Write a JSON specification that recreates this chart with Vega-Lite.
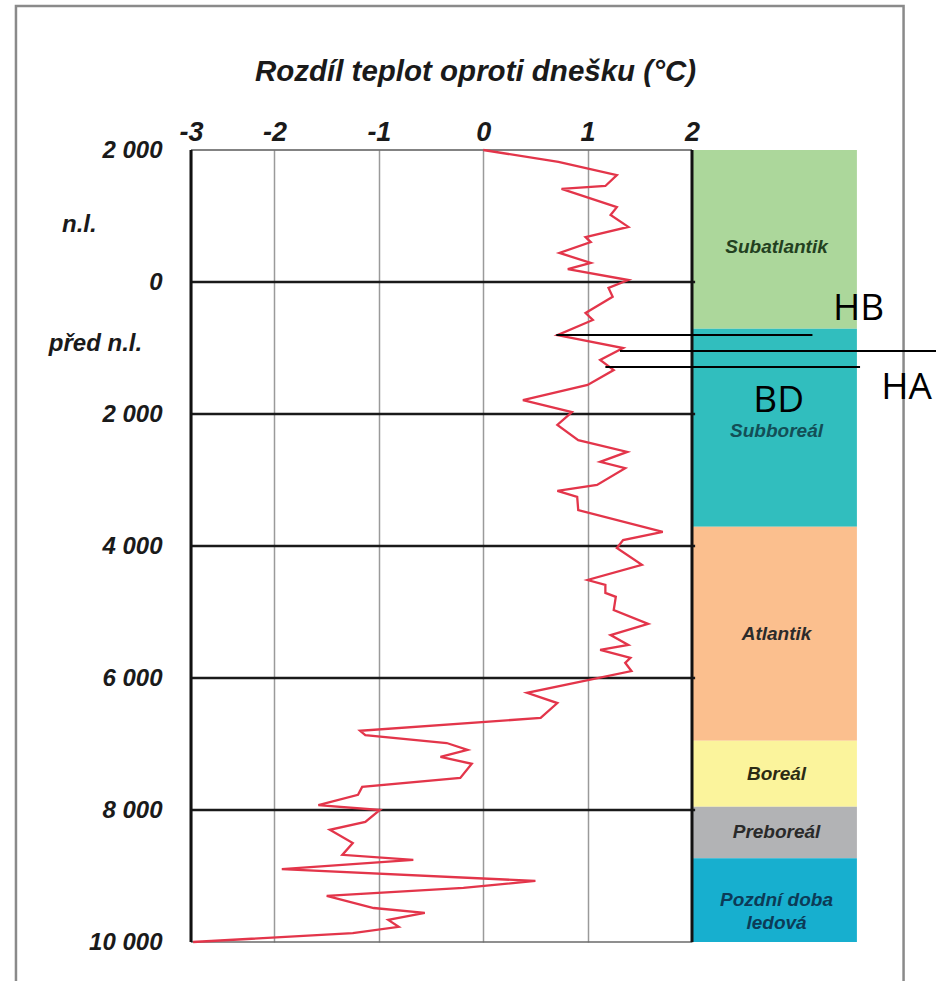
{
  "$schema": "https://vega.github.io/schema/vega-lite/v6.json",
  "width": 501,
  "height": 792,
  "autosize": {"type": "none"},
  "padding": {"left": 191, "top": 150, "right": 244, "bottom": 39},
  "background": "white",
  "config": {"view": {"stroke": null}},
  "resolve": {"axis": {"x": "independent", "y": "independent"}},
  "datasets": {
    "curve": [
      {"year": 2000, "dt": 0.0}, {"year": 1820, "dt": 0.72}, {"year": 1620, "dt": 1.28}, {"year": 1455, "dt": 1.17},
      {"year": 1410, "dt": 0.75}, {"year": 1135, "dt": 1.28}, {"year": 1015, "dt": 1.22}, {"year": 835, "dt": 1.39},
      {"year": 680, "dt": 0.98}, {"year": 605, "dt": 1.03}, {"year": 440, "dt": 0.73}, {"year": 290, "dt": 1.03},
      {"year": 195, "dt": 0.81}, {"year": 30, "dt": 1.39}, {"year": -90, "dt": 1.2}, {"year": -225, "dt": 1.24},
      {"year": -470, "dt": 0.98}, {"year": -575, "dt": 1.05}, {"year": -805, "dt": 0.71}, {"year": -1000, "dt": 1.34},
      {"year": -1180, "dt": 1.12}, {"year": -1335, "dt": 1.25}, {"year": -1560, "dt": 1.0}, {"year": -1790, "dt": 0.38},
      {"year": -1970, "dt": 0.85}, {"year": -2165, "dt": 0.71}, {"year": -2395, "dt": 0.91}, {"year": -2575, "dt": 1.38},
      {"year": -2725, "dt": 1.12}, {"year": -2820, "dt": 1.36}, {"year": -3075, "dt": 1.09}, {"year": -3165, "dt": 0.71},
      {"year": -3255, "dt": 0.9}, {"year": -3455, "dt": 0.91}, {"year": -3785, "dt": 1.72}, {"year": -3910, "dt": 1.34},
      {"year": -4030, "dt": 1.28}, {"year": -4285, "dt": 1.52}, {"year": -4515, "dt": 1.0}, {"year": -4590, "dt": 1.17},
      {"year": -4710, "dt": 1.17}, {"year": -4770, "dt": 1.27}, {"year": -4970, "dt": 1.25}, {"year": -5180, "dt": 1.58},
      {"year": -5350, "dt": 1.22}, {"year": -5500, "dt": 1.39}, {"year": -5575, "dt": 1.12}, {"year": -5695, "dt": 1.41},
      {"year": -5770, "dt": 1.36}, {"year": -5895, "dt": 1.42}, {"year": -6225, "dt": 0.42}, {"year": -6380, "dt": 0.71},
      {"year": -6605, "dt": 0.55}, {"year": -6800, "dt": -1.18}, {"year": -6865, "dt": -1.13}, {"year": -6985, "dt": -0.35},
      {"year": -7090, "dt": -0.15}, {"year": -7195, "dt": -0.41}, {"year": -7300, "dt": -0.11}, {"year": -7515, "dt": -0.22},
      {"year": -7650, "dt": -1.16}, {"year": -7770, "dt": -1.2}, {"year": -7925, "dt": -1.58}, {"year": -8000, "dt": -0.99},
      {"year": -8180, "dt": -1.13}, {"year": -8300, "dt": -1.47}, {"year": -8500, "dt": -1.25}, {"year": -8680, "dt": -1.35},
      {"year": -8755, "dt": -0.67}, {"year": -8895, "dt": -1.93}, {"year": -9075, "dt": 0.5}, {"year": -9180, "dt": -0.19},
      {"year": -9300, "dt": -1.5}, {"year": -9485, "dt": -1.05}, {"year": -9560, "dt": -0.56}, {"year": -9665, "dt": -0.91},
      {"year": -9770, "dt": -0.81}, {"year": -9865, "dt": -1.25}, {"year": -10000, "dt": -2.78}
    ],
    "bands": [
      {"name": "Subatlantik", "label": "Subatlantik", "start": 2000, "end": -710, "mid": 530},
      {"name": "Subboreál", "label": "Subboreál", "start": -710, "end": -3710, "mid": -2260},
      {"name": "Atlantik", "label": "Atlantik", "start": -3710, "end": -6950, "mid": -5330},
      {"name": "Boreál", "label": "Boreál", "start": -6950, "end": -7950, "mid": -7450},
      {"name": "Preboreál", "label": "Preboreál", "start": -7950, "end": -8730, "mid": -8340},
      {"name": "Pozdní doba ledová", "label": "Pozdní doba\nledová", "start": -8730, "end": -10000, "mid": -9365}
    ],
    "hlines": [{"year": 0}, {"year": -2000}, {"year": -4000}, {"year": -6000}, {"year": -8000}],
    "notes": [
      {"id": "HB", "from": 0.70, "to": 3.154, "year": -803},
      {"id": "BD", "from": 1.31, "to": 4.4, "year": -1045},
      {"id": "HA", "from": 1.17, "to": 3.61, "year": -1288}
    ],
    "noteText": [
      {"label": "HB", "x": 3.595, "year": -409},
      {"label": "BD", "x": 2.83, "year": -1810},
      {"label": "HA", "x": 4.056, "year": -1606}
    ],
    "era": [
      {"label": "n.l.", "x": -3.87, "year": 864},
      {"label": "před n.l.", "x": -3.715, "year": -939}
    ]
  },
  "layer": [
    {
      "data": {"values": [{}]},
      "mark": {"type": "rect", "filled": false, "stroke": "#8a8a8a", "strokeWidth": 2.5},
      "encoding": {
        "x": {"datum": -4.477, "type": "quantitative", "scale": {"domain": [-2.8, 2], "nice": false, "zero": false}, "axis": null},
        "x2": {"datum": 4.027},
        "y": {"datum": 4182, "type": "quantitative", "scale": {"domain": [-10000, 2000], "nice": false, "zero": false}, "axis": null},
        "y2": {"datum": -10726}
      }
    },
    {
      "data": {"name": "curve"},
      "mark": {"type": "line", "opacity": 0},
      "encoding": {
        "x": {
          "field": "dt", "type": "quantitative",
          "scale": {"domain": [-2.8, 2], "nice": false, "zero": false},
          "axis": {
            "orient": "top", "values": [-2.8, -2, -1, 0, 1, 2],
            "labelExpr": "datum.value < -2.5 ? '-3' : '' + datum.value",
            "ticks": false, "domain": false, "grid": true, "gridColor": "#9a9a9a", "gridWidth": 1.5,
            "labelFont": "Liberation Sans", "labelFontSize": 27, "labelFontWeight": "bold", "labelFontStyle": "italic",
            "labelColor": "#1a1a1a", "labelPadding": 4, "labelFlush": false, "labelOverlap": false,
            "title": "Rozdíl teplot oproti dnešku (°C)",
            "titleFont": "Liberation Sans", "titleFontSize": 29.5, "titleFontWeight": "bold", "titleFontStyle": "italic",
            "titleColor": "#1a1a1a", "titleX": 284, "titleY": -70, "titleBaseline": "alphabetic", "titleAlign": "center", "titleAngle": 0
          }
        },
        "y": {
          "field": "year", "type": "quantitative",
          "scale": {"domain": [-10000, 2000], "nice": false, "zero": false},
          "axis": {
            "orient": "left", "values": [2000, 0, -2000, -4000, -6000, -8000, -10000],
            "labelExpr": "datum.value == 0 ? '0' : replace(format(abs(datum.value), ','), ',', ' ')",
            "ticks": false, "domain": false, "grid": false,
            "labelFont": "Liberation Sans", "labelFontSize": 24, "labelFontWeight": "bold", "labelFontStyle": "italic",
            "labelColor": "#1a1a1a", "labelPadding": 29, "labelBaseline": "middle", "labelFlush": false, "labelOverlap": false,
            "title": null
          }
        }
      }
    },
    {
      "data": {"name": "bands"},
      "mark": {"type": "rect"},
      "encoding": {
        "x": {"datum": 2.01, "type": "quantitative", "scale": {"domain": [-2.8, 2], "nice": false, "zero": false}, "axis": null},
        "x2": {"datum": 3.58},
        "y": {"field": "start", "type": "quantitative", "scale": {"domain": [-10000, 2000], "nice": false, "zero": false}, "axis": null},
        "y2": {"field": "end"},
        "fill": {
          "field": "name", "type": "nominal", "legend": null,
          "scale": {
            "domain": ["Subatlantik", "Subboreál", "Atlantik", "Boreál", "Preboreál", "Pozdní doba ledová"],
            "range": ["#acd79b", "#31bebe", "#fbbf8e", "#fbf49c", "#b2b3b5", "#17afcf"]
          }
        }
      }
    },
    {
      "data": {"name": "bands"},
      "mark": {"type": "text", "font": "Liberation Sans", "fontSize": 19, "fontWeight": "bold", "fontStyle": "italic", "align": "center", "baseline": "middle", "lineBreak": "\n", "lineHeight": 23},
      "encoding": {
        "x": {"datum": 2.81, "type": "quantitative", "scale": {"domain": [-2.8, 2], "nice": false, "zero": false}, "axis": null},
        "y": {"field": "mid", "type": "quantitative", "scale": {"domain": [-10000, 2000], "nice": false, "zero": false}, "axis": null},
        "text": {"field": "label"},
        "color": {
          "field": "name", "type": "nominal", "legend": null,
          "scale": {
            "domain": ["Subatlantik", "Subboreál", "Atlantik", "Boreál", "Preboreál", "Pozdní doba ledová"],
            "range": ["#23401f", "#134e56", "#2b2b2b", "#2b2b14", "#2a2a2a", "#0c3b57"]
          }
        }
      }
    },
    {
      "data": {"name": "hlines"},
      "mark": {"type": "rule", "color": "#1a1a1a", "strokeWidth": 2.5},
      "encoding": {
        "x": {"datum": -2.8, "type": "quantitative", "scale": {"domain": [-2.8, 2], "nice": false, "zero": false}, "axis": null},
        "x2": {"datum": 2.03},
        "y": {"field": "year", "type": "quantitative", "scale": {"domain": [-10000, 2000], "nice": false, "zero": false}, "axis": null}
      }
    },
    {
      "data": {"values": [{}]},
      "mark": {"type": "rule", "color": "#5a5a5a", "strokeWidth": 1.5},
      "encoding": {
        "x": {"datum": -2.8, "type": "quantitative", "scale": {"domain": [-2.8, 2], "nice": false, "zero": false}, "axis": null},
        "x2": {"datum": 2},
        "y": {"datum": 2000, "type": "quantitative", "scale": {"domain": [-10000, 2000], "nice": false, "zero": false}, "axis": null}
      }
    },
    {
      "data": {"values": [{}]},
      "mark": {"type": "rule", "color": "#6a6a6a", "strokeWidth": 1.5},
      "encoding": {
        "x": {"datum": -2.8, "type": "quantitative", "scale": {"domain": [-2.8, 2], "nice": false, "zero": false}, "axis": null},
        "x2": {"datum": 2},
        "y": {"datum": -10000, "type": "quantitative", "scale": {"domain": [-10000, 2000], "nice": false, "zero": false}, "axis": null}
      }
    },
    {
      "data": {"values": [{"edge": -2.8}, {"edge": 2}]},
      "mark": {"type": "rule", "color": "#111111", "strokeWidth": 3},
      "encoding": {
        "x": {"field": "edge", "type": "quantitative", "scale": {"domain": [-2.8, 2], "nice": false, "zero": false}, "axis": null},
        "y": {"datum": 2000, "type": "quantitative", "scale": {"domain": [-10000, 2000], "nice": false, "zero": false}, "axis": null},
        "y2": {"datum": -10000}
      }
    },
    {
      "data": {"name": "curve"},
      "mark": {"type": "line", "color": "#e3354a", "strokeWidth": 2.3},
      "encoding": {
        "x": {"field": "dt", "type": "quantitative", "scale": {"domain": [-2.8, 2], "nice": false, "zero": false}, "axis": null},
        "y": {"field": "year", "type": "quantitative", "scale": {"domain": [-10000, 2000], "nice": false, "zero": false}, "axis": null},
        "order": {"field": "year", "type": "quantitative", "sort": "descending"}
      }
    },
    {
      "data": {"name": "notes"},
      "mark": {"type": "rule", "color": "#000000", "strokeWidth": 2},
      "encoding": {
        "x": {"field": "from", "type": "quantitative", "scale": {"domain": [-2.8, 2], "nice": false, "zero": false}, "axis": null},
        "x2": {"field": "to"},
        "y": {"field": "year", "type": "quantitative", "scale": {"domain": [-10000, 2000], "nice": false, "zero": false}, "axis": null}
      }
    },
    {
      "data": {"name": "noteText"},
      "mark": {"type": "text", "font": "Open Sans", "fontSize": 37, "color": "#000000", "align": "center", "baseline": "middle"},
      "encoding": {
        "x": {"field": "x", "type": "quantitative", "scale": {"domain": [-2.8, 2], "nice": false, "zero": false}, "axis": null},
        "y": {"field": "year", "type": "quantitative", "scale": {"domain": [-10000, 2000], "nice": false, "zero": false}, "axis": null},
        "text": {"field": "label"}
      }
    },
    {
      "data": {"name": "era"},
      "mark": {"type": "text", "font": "Liberation Sans", "fontSize": 24, "fontWeight": "bold", "fontStyle": "italic", "color": "#1a1a1a", "align": "center", "baseline": "middle"},
      "encoding": {
        "x": {"field": "x", "type": "quantitative", "scale": {"domain": [-2.8, 2], "nice": false, "zero": false}, "axis": null},
        "y": {"field": "year", "type": "quantitative", "scale": {"domain": [-10000, 2000], "nice": false, "zero": false}, "axis": null},
        "text": {"field": "label"}
      }
    }
  ]
}
